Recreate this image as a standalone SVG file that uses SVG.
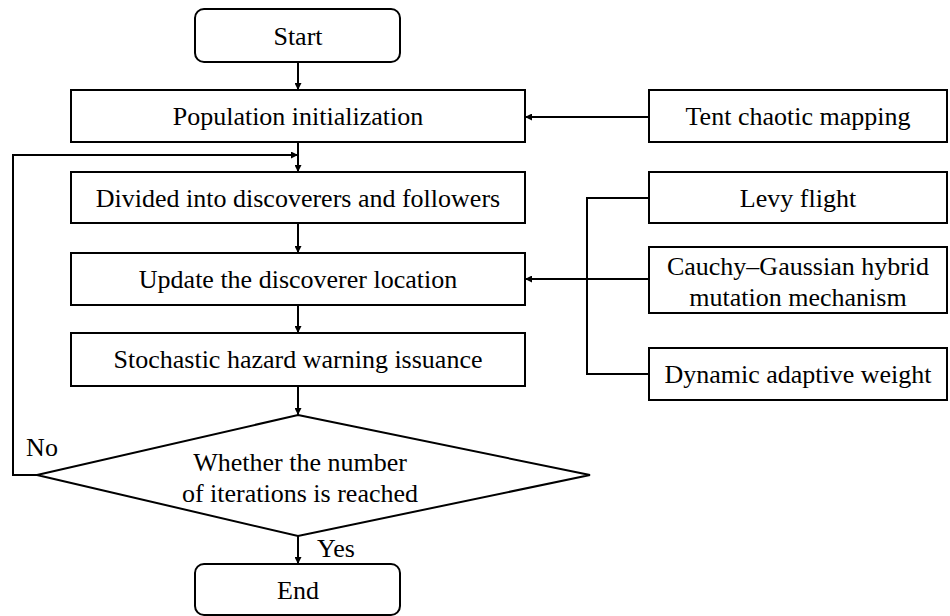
<svg xmlns="http://www.w3.org/2000/svg" width="950" height="616" viewBox="0 0 950 616">
<defs>
<marker id="ah" viewBox="0 0 10 10" refX="10" refY="5" markerWidth="7" markerHeight="7" markerUnits="userSpaceOnUse" orient="auto">
<path d="M0,0 L10,5 L0,10 z" fill="#000"/>
</marker>
</defs>
<style>
.b{fill:#fff;stroke:#000;stroke-width:2}
.c{fill:none;stroke:#000;stroke-width:2}
</style>
<rect width="950" height="616" fill="#fff"/>
<g id="start"><rect class="b" x="195" y="9" width="205" height="53" rx="9"/><text font-family="Liberation Serif" font-size="26" text-anchor="middle" x="298" y="45">Start</text></g>
<g id="init"><rect class="b" x="71" y="90" width="454" height="52"/><text font-family="Liberation Serif" font-size="26" text-anchor="middle" x="298" y="125">Population initialization</text></g>
<g id="divide"><rect class="b" x="71" y="172" width="454" height="51"/><text font-family="Liberation Serif" font-size="26" text-anchor="middle" x="298" y="207">Divided into discoverers and followers</text></g>
<g id="update"><rect class="b" x="71" y="253" width="454" height="52"/><text font-family="Liberation Serif" font-size="26" text-anchor="middle" x="298" y="288">Update the discoverer location</text></g>
<g id="warn"><rect class="b" x="71" y="333" width="454" height="53"/><text font-family="Liberation Serif" font-size="26" text-anchor="middle" x="298" y="368">Stochastic hazard warning issuance</text></g>
<g id="decision"><polygon class="b" points="298,415 590,475 298,536 37,475"/><text font-family="Liberation Serif" font-size="26" text-anchor="middle" x="300" y="471">Whether the number</text><text font-family="Liberation Serif" font-size="26" text-anchor="middle" x="300" y="502">of iterations is reached</text></g>
<g id="end"><rect class="b" x="195" y="564" width="205" height="51" rx="9"/><text font-family="Liberation Serif" font-size="26" text-anchor="middle" x="298" y="599">End</text></g>
<g id="tent"><rect class="b" x="649" y="90" width="298" height="52"/><text font-family="Liberation Serif" font-size="26" text-anchor="middle" x="798" y="125">Tent chaotic mapping</text></g>
<g id="levy"><rect class="b" x="649" y="172" width="298" height="51"/><text font-family="Liberation Serif" font-size="26" text-anchor="middle" x="798" y="207">Levy flight</text></g>
<g id="cauchy"><rect class="b" x="649" y="247" width="298" height="66"/><text font-family="Liberation Serif" font-size="26" text-anchor="middle" x="798" y="275">Cauchy–Gaussian hybrid</text><text font-family="Liberation Serif" font-size="26" text-anchor="middle" x="798" y="306">mutation mechanism</text></g>
<g id="dynamic"><rect class="b" x="649" y="348" width="298" height="52"/><text font-family="Liberation Serif" font-size="26" text-anchor="middle" x="798" y="383">Dynamic adaptive weight</text></g>
<g id="labels"><text font-family="Liberation Serif" font-size="26" text-anchor="middle" x="42" y="456">No</text><text font-family="Liberation Serif" font-size="26" text-anchor="middle" x="336" y="557">Yes</text></g>
<g id="connectors">
<line class="c" x1="298" y1="62" x2="298" y2="90" marker-end="url(#ah)"/>
<line class="c" x1="298" y1="142" x2="298" y2="172" marker-end="url(#ah)"/>
<line class="c" x1="298" y1="223" x2="298" y2="253" marker-end="url(#ah)"/>
<line class="c" x1="298" y1="305" x2="298" y2="333" marker-end="url(#ah)"/>
<line class="c" x1="298" y1="386" x2="298" y2="415" marker-end="url(#ah)"/>
<line class="c" x1="298" y1="536" x2="298" y2="564" marker-end="url(#ah)"/>
<polyline class="c" points="37,475 13,475 13,155 298,155" marker-end="url(#ah)"/>
<line class="c" x1="649" y1="117" x2="525" y2="117" marker-end="url(#ah)"/>
<polyline class="c" points="649,198 587,198 587,374 649,374"/>
<line class="c" x1="649" y1="279" x2="525" y2="279" marker-end="url(#ah)"/>
</g>
</svg>
